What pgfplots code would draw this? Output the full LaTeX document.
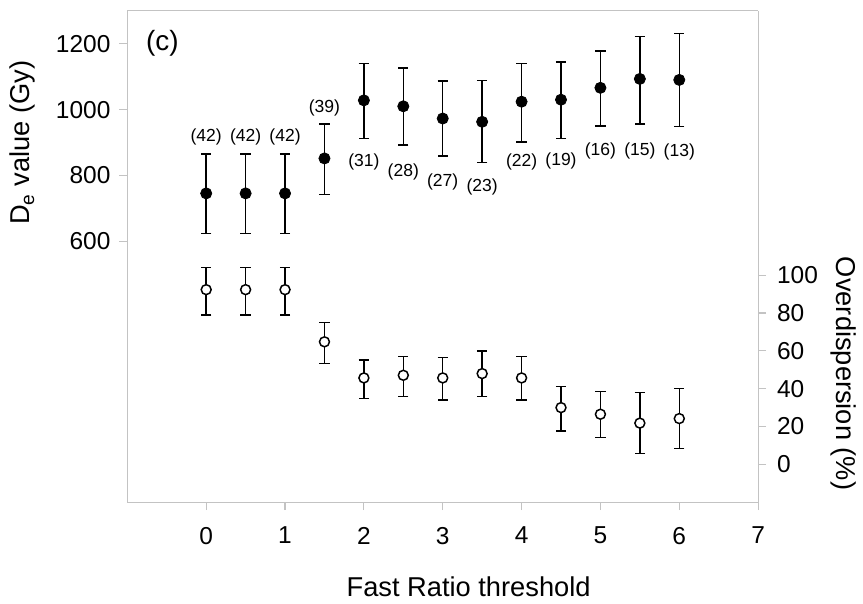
\documentclass[border=0pt]{standalone}
\usepackage{pgfplots}
\pgfplotsset{compat=1.18}
\usepackage{pgfplotstable}
\usepackage{fontspec}
\setmainfont{Liberation Sans}

\definecolor{framegray}{RGB}{195,195,195}

% De values (Gy) with asymmetric errors
\pgfplotstableread{
x    y     ep   em
0    746   119  121
0.5  746   119  121
1    746   119  121
1.5  852   105  110
2    1028  111  115
2.5  1010  116  118
3    973   113  114
3.5  963   125  124
4    1024  115  122
4.5  1030  115  118
5    1066  112  115
5.5  1093  129  136
6    1090  141  142
}\dedata

% number of aliquots, placed above/below the bars
\pgfplotstableread{
x    y     label
0    918   (42)
0.5  918   (42)
1    918   (42)
1.5  1006  (39)
2    840   (31)
2.5  812   (28)
3    782   (27)
3.5  764   (23)
4    840   (22)
4.5  843   (19)
5    876   (16)
5.5  876   (15)
6    873   (13)
}\ndata

% overdispersion (%)
\pgfplotstableread{
x    y     ep    em
0    92.4  11.8  13.3
0.5  92.4  11.8  13.3
1    92.4  11.8  13.3
1.5  64.8  10.2  11.4
2    45.7  9.5   10.9
2.5  47.1  10.0  11.1
3    45.7  10.7  11.6
3.5  48.0  11.9  12.0
4    45.7  11.4  11.8
4.5  30.0  11.1  12.4
5    26.5  12.0  12.4
5.5  21.8  16.2  16.0
6    24.2  15.9  15.9
}\oddata

\newcommand{\labfont}{\fontsize{13.7bp}{16bp}\selectfont}

\pgfplotsset{
  base/.style={
    width=317bp, height=247bp, scale only axis,
    xmin=-1, xmax=7,
    axis line style={framegray, line width=0.6bp},
    tick style={framegray, line width=0.6bp},
    major tick length=4bp,
    tick align=outside,
    /pgf/number format/assume math mode=true,
    /pgf/number format/1000 sep={},
    tick label style={font=\fontsize{12.3bp}{14bp}\selectfont},
    clip=false,
  },
  ebar/.style={
    error bars/.cd, y dir=both, y explicit,
    error bar style={black, line width=0.75bp},
    error mark options={black, rotate=90, mark size=2.6bp, line width=0.75bp},
  },
}

\begin{document}
\begin{tikzpicture}
\begin{axis}[base,
    axis x line*=box, axis y line*=left,
    ymin=-190, ymax=1300,
    xtick={0,...,7}, xtick pos=bottom,
    ytick={600,800,...,1200}, ytick pos=left,
    xticklabel style={yshift=-5bp},
    yticklabel style={xshift=-1bp},
    xlabel={Fast Ratio threshold},
    every axis x label/.style={at={([yshift=-34bp]rel axis cs:0.541,0)}, anchor=north, font=\labfont},
    ylabel={D\textsubscript{e} value (Gy)},
    every axis y label/.style={at={([xshift=-52.5bp]rel axis cs:0,0.7315)}, anchor=center, rotate=90, font=\labfont},
  ]
  \addplot[black, only marks, mark=*, mark size=2.8bp, mark options={fill=black},
    ebar] table[x=x, y=y, y error plus=ep, y error minus=em] {\dedata};

  \addplot[draw=none, mark=none, nodes near coords, point meta=explicit symbolic,
    every node near coord/.style={anchor=center, inner sep=0pt, black,
      font=\fontsize{8.8bp}{10bp}\selectfont}]
    table[x=x, y=y, meta=label] {\ndata};

  \node[anchor=west, font=\fontsize{14bp}{16bp}\selectfont] at (axis cs:-0.85,1200) {(c)};
\end{axis}

\begin{axis}[base,
    axis x line=none, axis y line*=right,
    ymin=-20, ymax=240,
    ytick={0,20,...,100}, ytick pos=right,
    yticklabel style={xshift=2bp},
    ylabel={Overdispersion (\%)},
    every axis y label/.style={at={([xshift=43bp]rel axis cs:1,0.2615)}, anchor=center, rotate=-90, font=\labfont},
  ]
  \addplot[black, only marks, mark=*, mark size=2.5bp,
    mark options={fill=white, line width=0.75bp}, ebar]
    table[x=x, y=y, y error plus=ep, y error minus=em] {\oddata};
\end{axis}

\path ([shift={(-64bp,-46.5bp)}]current axis.south west)
  rectangle ([shift={(50.5bp,5.35bp)}]current axis.north east);
\end{tikzpicture}
\end{document}
